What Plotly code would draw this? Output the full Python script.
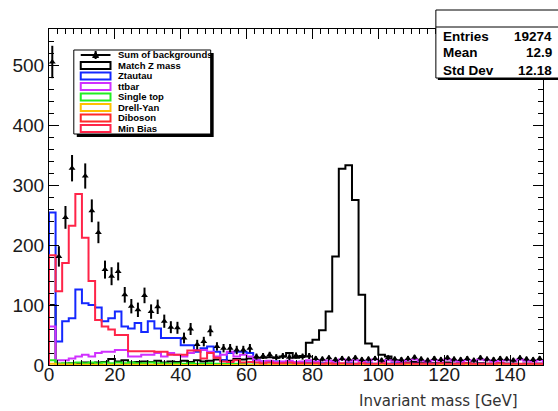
import plotly.graph_objects as go
import numpy as np

# ---------------- data ----------------
bin_edges = list(range(0, 152, 2))          # 2 GeV bins, 0..150
bin_centers = [e + 1 for e in bin_edges[:-1]]

sum_bkg = [505, 181, 246, 328, None, 315, 257, 221, 159, 148,
           156, 117, 98, 92, 116, 89, 97, 73, 63, 62,
           45, 60, 34, 39, 57, 31, 28, 28, 25, 25,
           28, 14, 15, 17, 13, 15, 13, 16, 14, 15,
           11, 10, 12, 9, 11, 10, 12, 9, 10, 11,
           8, 12, 10, 9, 11, 13, 10, 8, 11, 9,
           12, 10, 9, 11, 8, 12, 10, 9, 11, 10,
           8, 12, 10, 9, 11]
sum_bkg_err = [27, 17, 19, 22, 0, 21, 19, 18, 15, 15,
               15, 13, 12, 12, 13, 12, 12, 11, 10, 10,
               9, 10, 8, 8, 9, 7, 7, 7, 7, 7,
               7, 5, 5, 5, 5, 5, 5, 5, 5, 5,
               4, 4, 4, 4, 4, 4, 4, 4, 4, 4,
               4, 4, 4, 4, 4, 4, 4, 4, 4, 4,
               4, 4, 4, 4, 4, 4, 4, 4, 4, 4,
               4, 4, 4, 4, 4]
match_z = [100, 2, 2, 3, 3, 4, 3, 4, 5, 10,
           6, 8, 4, 5, 6, 5, 7, 4, 6, 5,
           7, 5, 8, 6, 7, 9, 8, 7, 10, 9,
           11, 12, 12, 13, 12, 14, 20, 12, 15, 37,
           42, 58, 89, 181, 327, 333, 275, 117, 36, 31,
           17, 14, 8, 5, 4, 5, 3, 4, 3, 3,
           4, 2, 3, 3, 2, 3, 2, 2, 3, 2,
           2, 1, 2, 2, 2]
ztautau = [254, 39, 73, 78, 126, 103, 100, 96, 73, 78,
           89, 64, 61, 70, 55, 73, 61, 45, 45, 45,
           33, 33, 22, 28, 31, 22, 8, 20, 22, 22,
           20, 8, 6, 5, 6, 5, 4, 5, 4, 4,
           3, 3, 2, 3, 2, 3, 2, 2, 3, 2,
           2, 2, 3, 2, 2, 2, 1, 2, 2, 2,
           1, 2, 2, 1, 2, 2, 1, 2, 1, 2,
           2, 1, 2, 1, 2]
ttbar = [64, 8, 8, 11, 14, 17, 14, 20, 22, 22,
         25, 25, 14, 14, 17, 17, 20, 14, 20, 17,
         14, 20, 25, 25, 22, 14, 17, 22, 14, 17,
         14, 8, 6, 7, 5, 6, 7, 5, 6, 8,
         6, 8, 7, 6, 9, 7, 8, 6, 7, 9,
         6, 8, 7, 6, 8, 9, 7, 6, 8, 7,
         9, 7, 6, 8, 7, 9, 8, 6, 7, 8,
         7, 9, 7, 6, 8]
single_top = [8, 2, 3, 3, 4, 3, 4, 3, 4, 3,
              4, 3, 4, 3, 3, 4, 3, 3, 2, 3,
              2, 3, 2, 2, 3, 2, 2, 2, 2, 2,
              1, 1, 1, 1, 1, 1, 1, 1, 1, 1,
              1, 1, 1, 1, 1, 1, 1, 1, 1, 1,
              1, 1, 1, 1, 1, 1, 1, 1, 1, 1,
              1, 1, 1, 1, 1, 1, 1, 1, 1, 1,
              1, 1, 1, 1, 1]
drell_yan = [2, 1, 1, 1, 0.5, 0.5, 0.5, 0.5, 0.5, 0.5,
             0.5, 0.5, 0.5, 0.5, 0.5, 0.5, 0.5, 0.5, 0.5, 0.5,
             0, 0, 0, 0, 0, 0, 0, 0, 0, 0,
             0, 0, 0, 0, 0, 0, 0, 0, 0, 0,
             0, 0, 0, 0, 0, 0, 0, 0, 0, 0,
             0, 0, 0, 0, 0, 0, 0, 0, 0, 0,
             0, 0, 0, 0, 0, 0, 0, 0, 0, 0,
             0, 0, 0, 0, 0]
min_bias = [183, 123, 170, 232, 285, 212, 140, 75, 64, 59,
            50, 50, 23, 23, 23, 23, 22, 22, 17, 17,
            17, 24, 24, 11, 20, 12, 6, 5, 8, 4,
            5, 4, 3, 4, 3, 3, 4, 3, 3, 3,
            3, 2, 3, 2, 3, 2, 2, 3, 2, 2,
            3, 2, 2, 2, 3, 2, 2, 2, 2, 3,
            2, 2, 2, 3, 2, 2, 2, 2, 3, 2,
            2, 2, 2, 2, 2]

legend_names = ["Sum of backgrounds", "Match Z mass", "Ztautau", "ttbar",
                "Single top", "Drell-Yan", "Diboson", "Min Bias"]
legend_colors = ["#000000", "#000000", "#1428ff", "#d030ff",
                 "#22ee22", "#ffc000", "#ff2a2a", "#ff2448"]

stats_labels = ["Entries", "Mean", "Std Dev"]
stats_values = ["19274", "12.9", "12.18"]

x_tickvals = [0, 20, 40, 60, 80, 100, 120, 140]
y_tickvals = [0, 100, 200, 300, 400, 500]

# ---------------- figure ----------------
W, H = 558, 411
L, R, T, B = 45, 15, 29, 46
PW, PH = W - L - R, H - T - B


def pxx(p):
    return (p - L) / PW


def pxy(p):
    return (H - B - p) / PH


fig = go.Figure()

hists = [(match_z, "#000000"), (ztautau, legend_colors[2]), (ttbar, legend_colors[3]),
         (single_top, legend_colors[4]), (drell_yan, legend_colors[5]),
         (min_bias, legend_colors[7])]
for vals, col in hists:
    xs = [bin_edges[0]] + bin_edges[:-1] + [bin_edges[-1], bin_edges[-1]]
    ys = [0] + list(vals) + [vals[-1], 0]
    fig.add_trace(go.Scatter(x=xs, y=ys, mode="lines", line=dict(shape="hv", color=col, width=2),
                             hoverinfo="skip", showlegend=False))

fig.add_trace(go.Scatter(
    x=bin_centers, y=sum_bkg, mode="markers",
    marker=dict(symbol="triangle-up", size=6, color="black"),
    error_y=dict(type="data", array=sum_bkg_err, thickness=2, width=0, color="black"),
    showlegend=False, cliponaxis=False))

axis_common = dict(showline=True, linecolor="black", linewidth=1, mirror="ticks",
                   ticks="inside", tickcolor="black", showgrid=False, zeroline=False,
                   tickfont=dict(family="Liberation Sans", size=19, color="#1a1a1a"))

fig.update_layout(
    width=W, height=H, margin=dict(l=L, r=R, t=T, b=B),
    paper_bgcolor="white", plot_bgcolor="white",
    xaxis=dict(range=[0, 150], tickvals=x_tickvals, ticklen=10, ticklabelstandoff=-8,
               minor=dict(dtick=2.5, ticklen=5, ticks="inside", tickcolor="black"),
               **axis_common),
    yaxis=dict(range=[0, 560], tickvals=y_tickvals, ticklen=10,
               minor=dict(dtick=20, ticklen=5, ticks="inside", tickcolor="black"),
               **axis_common),
)

shapes = []
ann = []

# Legend box with shadow
lx0, ly0, lx1, ly1 = 70, 50, 208, 134
shapes.append(dict(type="rect", xref="paper", yref="paper", x0=pxx(lx0 + 3), x1=pxx(lx1 + 3),
                   y0=pxy(ly0 + 3), y1=pxy(ly1 + 3), fillcolor="black", line=dict(width=0)))
shapes.append(dict(type="rect", xref="paper", yref="paper", x0=pxx(lx0), x1=pxx(lx1),
                   y0=pxy(ly0), y1=pxy(ly1), fillcolor="white", line=dict(color="black", width=1)))
row_y = [55, 65.5, 76, 86.5, 97, 107.5, 118, 128.5]
for name, col, yy in zip(legend_names, legend_colors, row_y):
    if name == "Sum of backgrounds":
        shapes.append(dict(type="line", xref="paper", yref="paper", x0=pxx(77), x1=pxx(107),
                           y0=pxy(yy), y1=pxy(yy), line=dict(color="black", width=2)))
        shapes.append(dict(type="line", xref="paper", yref="paper", x0=pxx(92), x1=pxx(92),
                           y0=pxy(yy - 4), y1=pxy(yy + 4), line=dict(color="black", width=2)))
        shapes.append(dict(type="path", xref="paper", yref="paper",
                           path=f"M {pxx(89)},{pxy(yy+2.5)} L {pxx(95)},{pxy(yy+2.5)} L {pxx(92)},{pxy(yy-3)} Z",
                           fillcolor="black", line=dict(color="black", width=1)))
    else:
        shapes.append(dict(type="rect", xref="paper", yref="paper", x0=pxx(77), x1=pxx(107),
                           y0=pxy(yy - 3.5), y1=pxy(yy + 3.5), fillcolor="white",
                           line=dict(color=col, width=2)))
    ann.append(dict(text=f"<b>{name}</b>", x=pxx(113), y=pxy(yy), xref="paper", yref="paper",
                    xanchor="left", yanchor="middle", showarrow=False,
                    font=dict(family="Liberation Sans", size=9.5, color="black")))

# Stats box
sx0, sy0, sx1, sy1 = 435, 10, 565, 78
shapes.append(dict(type="rect", xref="paper", yref="paper", x0=pxx(sx0 + 2), x1=pxx(sx1 + 2),
                   y0=pxy(sy0 + 2), y1=pxy(sy1 + 2), fillcolor="black", line=dict(width=0)))
shapes.append(dict(type="rect", xref="paper", yref="paper", x0=pxx(sx0), x1=pxx(sx1),
                   y0=pxy(sy0), y1=pxy(sy1), fillcolor="white", line=dict(color="black", width=1)))
shapes.append(dict(type="line", xref="paper", yref="paper", x0=pxx(sx0), x1=pxx(sx1),
                   y0=pxy(27), y1=pxy(27), line=dict(color="black", width=1)))
for lab, val, yy in zip(stats_labels, stats_values, [36, 53, 70]):
    ann.append(dict(text=f"<b>{lab}</b>", x=pxx(440), y=pxy(yy), xref="paper", yref="paper",
                    xanchor="left", yanchor="middle", showarrow=False,
                    font=dict(family="Liberation Sans", size=13.5, color="black")))
    ann.append(dict(text=f"<b>{val}</b>", x=pxx(554), y=pxy(yy), xref="paper", yref="paper",
                    xanchor="right", yanchor="middle", showarrow=False,
                    font=dict(family="Liberation Sans", size=13.5, color="black")))

# x-axis title
ann.append(dict(text="Invariant mass [GeV]", x=pxx(520), y=pxy(401), xref="paper", yref="paper",
                xanchor="right", yanchor="middle", showarrow=False,
                font=dict(family="DejaVu Sans", size=15, color="#333333")))

fig.update_layout(shapes=shapes, annotations=ann)
fig.write_html("out.html")
